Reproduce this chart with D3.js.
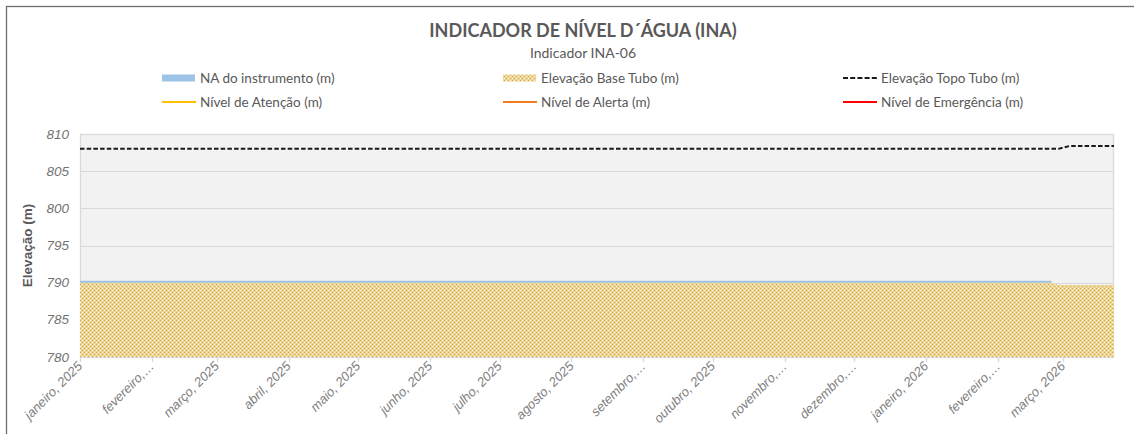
<!DOCTYPE html>
<html><head><meta charset="utf-8">
<script src="https://cdn.jsdelivr.net/npm/d3@7"></script>
<style>
html,body{margin:0;padding:0;background:#fff;}
svg{display:block;}
</style></head>
<body>
<svg id="chart" width="1134" height="434"></svg>
<script>
// ---- data ----
const dates = ["2025-01-01","2025-02-01","2025-03-01","2025-04-01","2025-05-01","2025-06-01","2025-07-01","2025-08-01","2025-09-01","2025-10-01","2025-11-01","2025-12-01","2026-01-01","2026-02-01","2026-02-24","2026-02-27","2026-03-04","2026-03-23"];
const naInstrumento = [790.25,790.25,790.25,790.25,790.25,790.25,790.25,790.25,790.25,790.25,790.25,790.25,790.25,790.25,790.25,null,null,null];
const baseTubo = [790,790,790,790,790,790,790,790,790,790,790,790,790,790,790,789.7,789.7,789.7];
const topoTubo = [808,808,808,808,808,808,808,808,808,808,808,808,808,808,808,808,808.4,808.4];
const nivelAtencao = [];
const nivelAlerta = [];
const nivelEmergencia = [];
const monthTicks = ["2025-01-01","2025-02-01","2025-03-01","2025-04-01","2025-05-01","2025-06-01","2025-07-01","2025-08-01","2025-09-01","2025-10-01","2025-11-01","2025-12-01","2026-01-01","2026-02-01","2026-03-01"];
const tickLabels = ["janeiro, 2025","fevereiro,…","março, 2025","abril, 2025","maio, 2025","junho, 2025","julho, 2025","agosto, 2025","setembro,…","outubro, 2025","novembro,…","dezembro,…","janeiro, 2026","fevereiro,…","março, 2026"];
const yTicks = [780,785,790,795,800,805,810];
const domainEnd = "2026-03-23";
const title = "INDICADOR DE NÍVEL D´ÁGUA (INA)";
const subtitle = "Indicador INA-06";
const yTitle = "Elevação (m)";
const legendItems = [
  {name:"NA do instrumento (m)", type:"area"},
  {name:"Elevação Base Tubo (m)", type:"pattern"},
  {name:"Elevação Topo Tubo (m)", type:"dash"},
  {name:"Nível de Atenção (m)", type:"line", color:"#ffc000"},
  {name:"Nível de Alerta (m)", type:"line", color:"#f47a20"},
  {name:"Nível de Emergência (m)", type:"line", color:"#ff0000"}
];

// ---- layout ----
const svg = d3.select("#chart");
const parse = d3.timeParse("%Y-%m-%d");
const L = 80, R = 1114, T = 134, B = 357;
const x = d3.scaleTime().domain([parse(dates[0]), parse(domainEnd)]).range([L, R]);
const y = d3.scaleLinear().domain([780, 810]).range([B, T]);
const TXT = "#595959";

// pattern
const defs = svg.append("defs");
const pat = defs.append("pattern").attr("id","chk").attr("patternUnits","userSpaceOnUse")
  .attr("width",4).attr("height",4);
pat.append("rect").attr("width",4).attr("height",4).attr("fill","#ebd598");
[[0,0],[2,2]].forEach(p=>pat.append("rect").attr("x",p[0]).attr("y",p[1]).attr("width",1).attr("height",1).attr("fill","#d3aa3a"));
[[0,2],[2,0]].forEach(p=>pat.append("rect").attr("x",p[0]).attr("y",p[1]).attr("width",1).attr("height",1).attr("fill","#fbf5e2"));

// outer chart border
svg.append("rect").attr("x",6.5).attr("y",6.5).attr("width",1200).attr("height",500)
  .attr("fill","none").attr("stroke","#6e6e6e").attr("stroke-width",1.3);

// title
svg.append("text").attr("x",583).attr("y",37).attr("text-anchor","middle")
  .attr("font-family","Lato").attr("font-weight","bold").attr("font-size",18)
  .attr("fill",TXT).text(title);
svg.append("text").attr("x",583).attr("y",58).attr("text-anchor","middle")
  .attr("font-family","Lato").attr("font-size",14).attr("fill",TXT).text(subtitle);

// legend
const colX = [162, 503, 843], rowY = [78, 102];
legendItems.forEach((it,i)=>{
  const cx = colX[i%3], cy = rowY[Math.floor(i/3)];
  const g = svg.append("g");
  if(it.type==="area") g.append("rect").attr("x",cx).attr("y",cy-3.5).attr("width",33).attr("height",7).attr("fill","#9dc3e6");
  else if(it.type==="pattern") g.append("rect").attr("x",cx).attr("y",cy-3.5).attr("width",33).attr("height",7).attr("fill","url(#chk)");
  else if(it.type==="dash") g.append("line").attr("x1",cx).attr("x2",cx+34).attr("y1",cy).attr("y2",cy).attr("stroke","#1a1a1a").attr("stroke-width",2).attr("stroke-dasharray","5,2.2");
  else g.append("line").attr("x1",cx).attr("x2",cx+34).attr("y1",cy).attr("y2",cy).attr("stroke",it.color).attr("stroke-width",2.2);
  g.append("text").attr("x",cx+38).attr("y",cy+4.5).attr("font-family","Lato").attr("font-size",13.5)
    .attr("fill",TXT).text(it.name);
});

// plot area
svg.append("rect").attr("x",L).attr("y",T).attr("width",R-L).attr("height",B-T).attr("fill","#f2f2f2");
svg.append("g").selectAll("line").data(yTicks).join("line")
  .attr("x1",L).attr("x2",R).attr("y1",d=>Math.round(y(d))+0.5).attr("y2",d=>Math.round(y(d))+0.5)
  .attr("stroke","#d9d9d9").attr("stroke-width",1);
svg.append("rect").attr("x",L+0.5).attr("y",T+0.5).attr("width",R-L-1).attr("height",B-T)
  .attr("fill","none").attr("stroke","#d9d9d9").attr("stroke-width",1.3);

// series
const rows = dates.map((d,i)=>({date:parse(d), na:naInstrumento[i], base:baseTubo[i], top:topoTubo[i]}));
const naArea = d3.area().defined(d=>d.na!=null).x(d=>x(d.date)).y0(y(780)).y1(d=>y(d.na));
svg.append("path").datum(rows).attr("d",naArea).attr("fill","#9dc3e6");
const baseArea = d3.area().defined(d=>d.base!=null).x(d=>x(d.date)).y0(y(780)).y1(d=>y(d.base));
svg.append("path").datum(rows).attr("d",baseArea).attr("fill","url(#chk)");
const topLine = d3.line().defined(d=>d.top!=null).x(d=>x(d.date)).y(d=>y(d.top));
svg.append("path").datum(rows).attr("d",topLine).attr("fill","none")
  .attr("stroke","#1a1a1a").attr("stroke-width",2).attr("stroke-dasharray","4.5,2.2");

// y axis labels
svg.append("g").selectAll("text").data(yTicks).join("text")
  .attr("x",69).attr("y",d=>y(d)+4.5).attr("text-anchor","end")
  .attr("font-family","Liberation Sans").attr("font-style","italic").attr("font-size",13.5)
  .attr("fill","#737373").text(d=>d);
svg.append("text").attr("transform","translate(32,"+((T+B)/2)+") rotate(-90)")
  .attr("text-anchor","middle").attr("font-family","Liberation Sans").attr("font-weight","bold")
  .attr("font-size",13.5).attr("fill",TXT).text(yTitle);

// x axis ticks & labels
const tk = monthTicks.map(parse);
svg.append("g").selectAll("line").data(tk).join("line")
  .attr("x1",d=>Math.round(x(d))+0.5).attr("x2",d=>Math.round(x(d))+0.5).attr("y1",B).attr("y2",B+5)
  .attr("stroke","#d9d9d9").attr("stroke-width",1.3);
svg.append("g").selectAll("text").data(tk).join("text")
  .attr("transform",d=>"translate("+(x(d)+3)+","+(B+10)+") rotate(-45)")
  .attr("text-anchor","end").attr("font-family","Liberation Sans").attr("font-style","italic")
  .attr("font-size",13).attr("fill","#808080").text((d,i)=>tickLabels[i]);
</script>
</body></html>
